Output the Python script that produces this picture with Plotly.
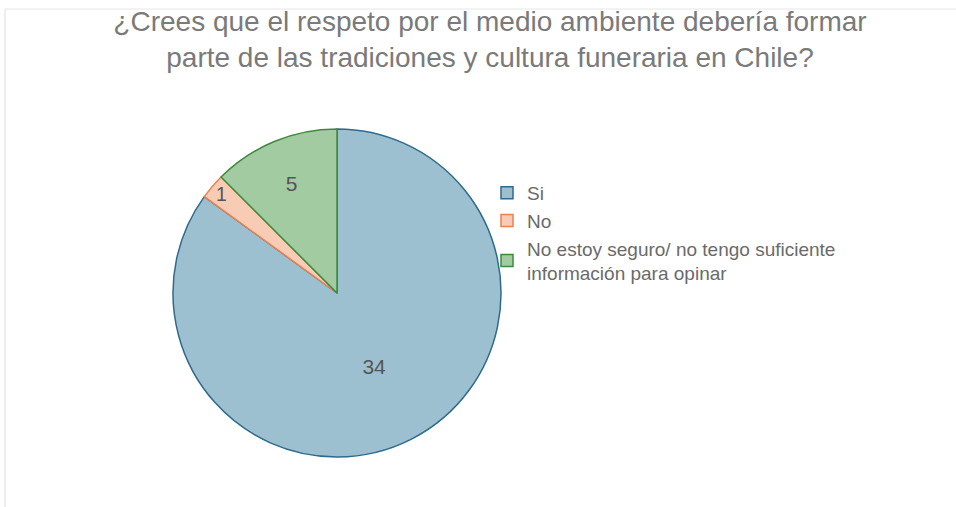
import plotly.graph_objects as go

labels = ["Si", "No", "No estoy seguro/ no tengo suficiente<br>información para opinar"]
values = [34, 1, 5]
fill_colors = ["#9dc0d1", "#f7cbb4", "#a2cba2"]
line_colors = ["#2f6a8c", "#e8824f", "#3d8a3d"]
title_text = "¿Crees que el respeto por el medio ambiente debería formar<br>parte de las tradiciones y cultura funeraria en Chile?"

W, H = 956, 507
cx, cy, r = 337, 293, 164

fig = go.Figure(go.Pie(
    labels=labels,
    values=values,
    sort=False,
    direction="clockwise",
    rotation=0,
    marker=dict(colors=fill_colors, line=dict(color=line_colors, width=1.5)),
    textinfo="value",
    textposition="inside",
    insidetextorientation="horizontal",
    textfont=dict(family="Liberation Sans, Arial, sans-serif", size=21, color="#555555"),
    domain=dict(x=[(cx - r) / W, (cx + r) / W], y=[(H - cy - r) / H, (H - cy + r) / H]),
    hoverinfo="label+value+percent",
))

fig.update_layout(
    width=W, height=H,
    margin=dict(l=0, r=0, t=0, b=0),
    paper_bgcolor="white",
    plot_bgcolor="white",
    font=dict(family="Liberation Sans, Arial, sans-serif", color="#666666"),
    title=dict(
        text=title_text,
        x=490 / W, xanchor="center", xref="container",
        y=1 - 31 / H, yanchor="top", yref="container",
        font=dict(size=28, color="#7a7a7a", family="Liberation Sans, Arial, sans-serif"),
    ),
    legend=dict(
        x=487 / W, xanchor="left",
        y=1 - 174 / H, yanchor="top",
        font=dict(size=19, color="#6a6a6a"),
        bgcolor="rgba(0,0,0,0)",
        tracegroupgap=0,
        itemclick=False,
    ),
    showlegend=True,
    shapes=[
        dict(type="line", xref="paper", yref="paper", x0=5 / W, x1=5 / W, y0=0, y1=1 - 9 / H,
             line=dict(color="#dddddd", width=1)),
        dict(type="line", xref="paper", yref="paper", x0=5 / W, x1=1, y0=1 - 9 / H, y1=1 - 9 / H,
             line=dict(color="#e6e6e6", width=1)),
    ],
)

fig.write_html("out.html", config={"displayModeBar": False},
               post_script="document.body.style.margin='0';")
